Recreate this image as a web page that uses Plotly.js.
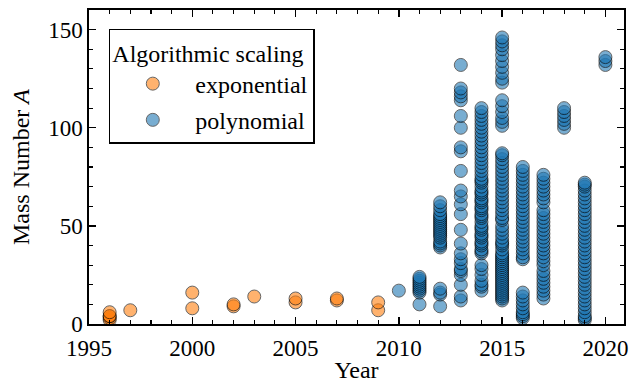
<!DOCTYPE html>
<html>
<head>
<meta charset="utf-8">
<script src="https://cdn.plot.ly/plotly-3.0.1.min.js"></script>
<style>html,body{margin:0;padding:0;background:#fff;}#chart{width:633px;height:383px;}</style>
</head>
<body>
<div id="chart"></div>
<script>
// Exponential-scaling calculations: year and mass number A
const exp1996 = [2, 3, 4, 4, 6];
const exp1997 = [7];
const exp2000 = [8, 16];
const exp2002 = [9, 10];
const exp2003 = [14];
const exp2005 = [11, 13];
const exp2007 = [12, 13];
const exp2009 = [7, 11];

// Polynomial-scaling calculations
const poly2010 = [17];
const poly2011 = [10, 16, 17, 18, 19, 20, 21, 22, 23, 24];
const poly2012 = [9, 15, 16, 18, 39, 40, 41, 42, 44, 45, 46, 47, 48, 49, 50, 51, 52, 53, 54, 55, 56, 58, 60, 62];
const poly2013 = [12, 14, 20, 25, 27, 28, 31, 33, 36, 41, 48, 56, 61, 65, 68, 78, 88, 90, 100, 106, 114, 116, 118, 120, 132];
const poly2014 = [17, 19, 20, 22, 25, 28, 30, 36, 37, 38, 40, 41, 42, 44, 45, 46, 48, 49, 50, 52, 54, 55, 56, 58, 59, 60, 62, 63, 64, 66, 67, 68, 70, 72, 73, 74, 76, 78, 80, 82, 84, 86, 88, 90, 92, 94, 96, 98, 100, 102, 104, 106, 108, 110];
const poly2015 = [12, 13, 14, 15, 16, 17, 18, 19, 20, 21, 22, 23, 24, 25, 26, 27, 28, 29, 30, 31, 32, 33, 34, 35, 36, 38, 40, 41, 42, 44, 46, 48, 50, 53, 54, 56, 58, 60, 62, 64, 66, 68, 70, 72, 74, 76, 78, 80, 82, 84, 86, 87, 101, 103, 105, 108, 111, 114, 123, 125, 128, 131, 134, 137, 140, 142, 144, 146];
const poly2016 = [3, 4, 5, 6, 8, 10, 12, 14, 16, 33, 34, 36, 38, 40, 42, 44, 46, 48, 50, 52, 54, 56, 58, 60, 62, 64, 66, 68, 70, 72, 74, 76, 78, 80];
const poly2017 = [13, 15, 17, 19, 21, 23, 25, 27, 30, 32, 34, 36, 38, 40, 42, 44, 46, 48, 50, 52, 54, 56, 58, 62, 64, 66, 68, 70, 72, 74, 76];
const poly2018 = [100, 102, 104, 106, 108, 110];
const poly2019 = [2, 3, 4, 6, 8, 10, 12, 14, 16, 18, 20, 22, 24, 26, 28, 30, 32, 34, 36, 38, 40, 42, 44, 46, 48, 50, 52, 54, 56, 58, 60, 62, 64, 66, 68, 70, 71, 72];
const poly2020 = [132, 134, 136];

const expByYear = {1996: exp1996, 1997: exp1997, 2000: exp2000, 2002: exp2002, 2003: exp2003, 2005: exp2005, 2007: exp2007, 2009: exp2009};
const polyByYear = {2010: poly2010, 2011: poly2011, 2012: poly2012, 2013: poly2013, 2014: poly2014, 2015: poly2015, 2016: poly2016, 2017: poly2017, 2018: poly2018, 2019: poly2019, 2020: poly2020};

function flatten(byYear) {
  const xs = [], ys = [];
  Object.keys(byYear).forEach(function (yr) {
    byYear[yr].forEach(function (a) { xs.push(Number(yr)); ys.push(a); });
  });
  return {x: xs, y: ys};
}
const expData = flatten(expByYear);
const polyData = flatten(polyByYear);

const FONT = 'Liberation Serif, Times New Roman, serif';

const traces = [
  {
    type: 'scatter', mode: 'markers', name: 'exponential', legendgroup: 'a',
    x: expData.x, y: expData.y,
    marker: {size: 13, color: '#ff7f0e', opacity: 0.6, line: {color: '#000', width: 1}}
  },
  {
    type: 'scatter', mode: 'markers', name: 'polynomial', legendgroup: 'b',
    x: polyData.x, y: polyData.y,
    marker: {size: 13, color: '#1f77b4', opacity: 0.6, line: {color: '#000', width: 1}}
  }
];

const axisCommon = {
  showgrid: false, zeroline: false,
  showline: true, linecolor: '#000', linewidth: 1.6, mirror: 'allticks',
  ticks: 'inside', ticklen: 7, tickwidth: 1.4, tickcolor: '#000',
  tickfont: {family: FONT, size: 23, color: '#000'}
};

const layout = {
  width: 633, height: 383,
  margin: {l: 89, r: 9, t: 10, b: 59},
  paper_bgcolor: '#fff', plot_bgcolor: '#fff',
  font: {family: FONT, color: '#000'},
  xaxis: Object.assign({}, axisCommon, {
    range: [1995, 2020.9], tickvals: [1995, 2000, 2005, 2010, 2015, 2020],
    ticklabelstandoff: 3,
    minor: {dtick: 1, tick0: 1995, ticks: 'inside', ticklen: 4, tickwidth: 1.1, tickcolor: '#000', showgrid: false},
    title: {text: 'Year', font: {family: FONT, size: 24, color: '#000'}, standoff: 2}
  }),
  yaxis: Object.assign({}, axisCommon, {
    range: [0, 160], tickvals: [0, 50, 100, 150],
    minor: {dtick: 10, tick0: 0, ticks: 'inside', ticklen: 4, tickwidth: 1.1, tickcolor: '#000', showgrid: false},
    title: {text: 'Mass Number <i>A</i>', font: {family: FONT, size: 24, color: '#000'}, standoff: 12}
  }),
  showlegend: true,
  legend: {
    x: 0.037, y: 0.94, xanchor: 'left', yanchor: 'top',
    bgcolor: '#fff', bordercolor: '#000', borderwidth: 1.5,
    font: {family: FONT, size: 24, color: '#000'},
    title: {text: 'Algorithmic scaling', font: {family: FONT, size: 24, color: '#000'}},
    traceorder: 'grouped', tracegroupgap: 2, itemwidth: 75
  }
};

Plotly.newPlot('chart', traces, layout, {displayModeBar: false, staticPlot: true});
</script>
</body>
</html>
